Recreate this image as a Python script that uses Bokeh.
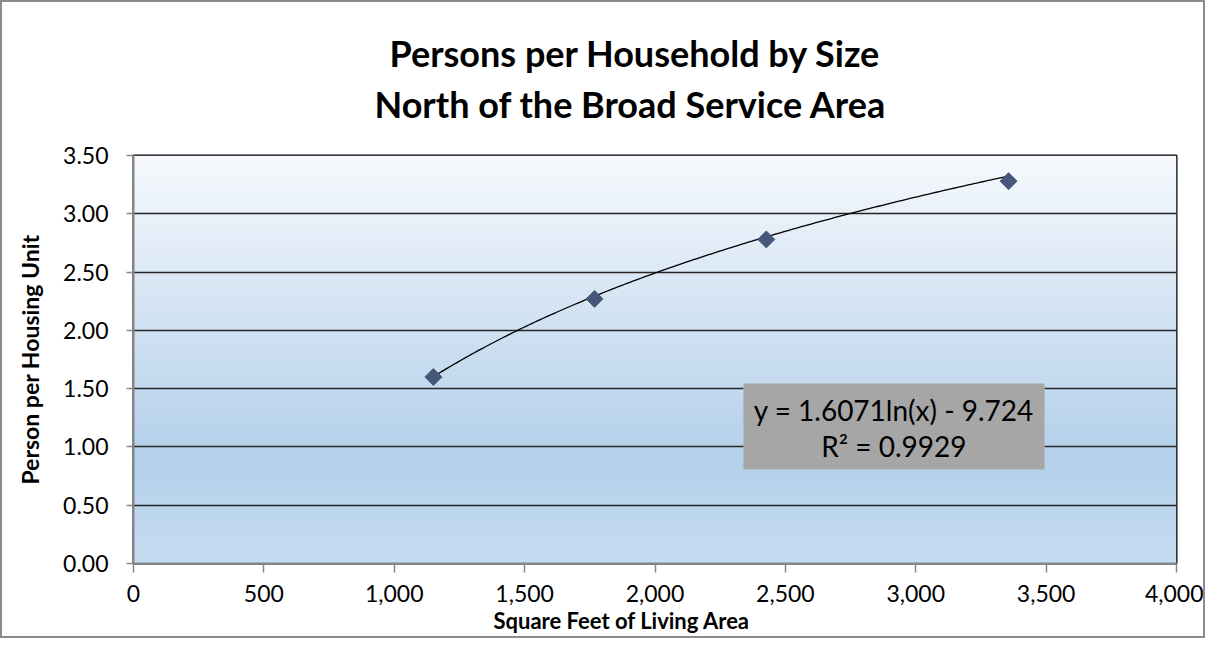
import numpy as np
from bokeh.plotting import figure
from bokeh.models import (Title, Label, BoxAnnotation, SingleIntervalTicker,
                          NumeralTickFormatter, Range1d)
from bokeh.embed import file_html
from bokeh.resources import INLINE

# ---- data ----
sqft = [1150, 1768, 2427, 3356]
persons = [1.60, 2.27, 2.78, 3.28]
trend_coef = [1.6071, -9.724]          # y = a*ln(x) + b  (shown on chart)
r_squared = 0.9929
title_lines = ["Persons per Household by Size", "North of the Broad Service Area"]
x_label = "Square Feet of Living Area"
y_label = "Person per Housing Unit"

FONT = "Lato"

p = figure(width=1205, height=638, output_backend="svg", toolbar_location=None,
           x_range=Range1d(0, 4000), y_range=Range1d(0, 3.5),
           min_border_left=131, min_border_right=31, min_border_bottom=77,
           min_border_top=153)
p.styles = {"border": "2px solid #8c8c8c"}

# titles: added innermost first (spacer, line 2, line 1)
spacer = Title(text=" ", text_font_size="1px", standoff=27, text_color="white")
p.add_layout(spacer, "above")
t2 = Title(text=title_lines[1], align="left", offset=241, text_font=FONT,
           text_font_size="36px", text_font_style="bold", text_color="black",
           standoff=0)
p.add_layout(t2, "above")
t1 = Title(text=title_lines[0], align="left", offset=256, text_font=FONT,
           text_font_size="36px", text_font_style="bold", text_color="black",
           standoff=10)
p.add_layout(t1, "above")

# background gradient
stops_y = np.array([0.0, 0.9, 3.5])
stops_c = np.array([[197, 221, 242], [180, 208, 235], [246, 249, 253]], dtype=float)
N = 200
yy = np.linspace(0, 3.5, N)
cols = np.stack([np.interp(yy, stops_y, stops_c[:, k]) for k in range(3)], axis=1).astype(np.uint32)
img = np.zeros((N, 1), dtype=np.uint32)
img[:, 0] = (255 << 24) | (cols[:, 2] << 16) | (cols[:, 1] << 8) | cols[:, 0]
p.image_rgba(image=[img], x=0, y=0, dw=4000, dh=3.5, level="image")

p.background_fill_color = "white"
p.border_fill_color = "white"
p.outline_line_color = "black"
p.outline_line_width = 2

# grid
p.xgrid.visible = False
p.ygrid.grid_line_color = "#262626"
p.ygrid.grid_line_width = 1.5

# axes
for ax in (p.xaxis[0], p.yaxis[0]):
    ax.axis_line_color = "#868686"
    ax.axis_line_width = 2
    ax.major_tick_line_color = "#868686"
    ax.major_tick_line_width = 1.5
    ax.major_tick_in = 0
    ax.minor_tick_line_color = None
    ax.major_label_text_font = FONT
    ax.major_label_text_font_size = "23px"
    ax.major_label_text_color = "black"

p.xaxis.ticker = SingleIntervalTicker(interval=500)
p.xaxis.formatter = NumeralTickFormatter(format="0,0")
p.xaxis.major_tick_out = 9
p.xaxis.major_label_standoff = 12

p.yaxis.ticker = SingleIntervalTicker(interval=0.5)
p.yaxis.formatter = NumeralTickFormatter(format="0.00")
p.yaxis.major_tick_out = 7
p.yaxis.major_label_standoff = 18
p.yaxis.axis_label = y_label
p.yaxis.axis_label_text_font = FONT
p.yaxis.axis_label_text_font_size = "23px"
p.yaxis.axis_label_text_font_style = "bold"
p.yaxis.axis_label_text_color = "black"
p.yaxis.axis_label_standoff = 16

# x-axis title (centred like the original, slightly left of the plot centre)
xl = Title(text=x_label, align="left", offset=360, text_font=FONT,
           text_font_size="22px", text_font_style="bold", text_color="black",
           standoff=0)
p.add_layout(xl, "below")

# trendline (from displayed equation over data range)
xt = np.linspace(min(sqft), max(sqft), 200)
yt = trend_coef[0] * np.log(xt) + trend_coef[1]
p.line(xt, yt, line_color="black", line_width=1.3)

p.scatter(sqft, persons, marker="square", angle=np.pi / 4, size=12,
          fill_color="#46587a", line_color="#46587a")

# equation box
box = BoxAnnotation(left=2339, right=3494, bottom=0.806, top=1.544,
                    fill_color="#a6a6a6", fill_alpha=1.0, line_color="#bfbfbf",
                    line_width=1)
p.add_layout(box)
eq = "y = %.4fln(x) - %.3f" % (trend_coef[0], -trend_coef[1])
p.add_layout(Label(x=2916, y=1.321, text=eq, text_align="center",
                   text_baseline="middle", text_font=FONT, text_font_size="28px",
                   text_color="black"))
p.add_layout(Label(x=2916, y=1.012, text="R² = %.4f" % r_squared, text_align="center",
                   text_baseline="middle", text_font=FONT, text_font_size="28px",
                   text_color="black"))

open("out.html", "w").write(file_html(p, INLINE))
